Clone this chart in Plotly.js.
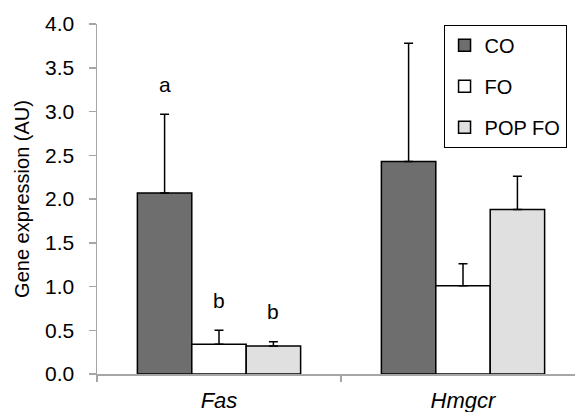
<!DOCTYPE html>
<html>
<head>
<meta charset="utf-8">
<script src="https://cdn.plot.ly/plotly-3.0.1.min.js"></script>
<style>html,body{margin:0;padding:0;background:#fff;}#chart{width:575px;height:412px;}</style>
</head>
<body>
<div id="chart"></div>
<script>
// Data
var categories = ["Fas", "Hmgcr"];
var categoryLabels = ["<i>Fas</i>", "<i>Hmgcr</i>"];
var seriesNames = ["CO", "FO", "POP FO"];
var coValues = [2.07, 2.43];
var foValues = [0.34, 1.01];
var popfoValues = [0.32, 1.88];
var coErrors = [0.90, 1.35];
var foErrors = [0.16, 0.25];
var popfoErrors = [0.05, 0.38];
var coLetters = ["a", ""];
var foLetters = ["b", ""];
var popfoLetters = ["b", ""];
var yTickVals = [0, 0.5, 1, 1.5, 2, 2.5, 3, 3.5, 4];
var yTickText = ["0.0", "0.5", "1.0", "1.5", "2.0", "2.5", "3.0", "3.5", "4.0"];

var colors = ["#6e6e6e", "#ffffff", "#e0e0e0"];
var values = [coValues, foValues, popfoValues];
var errors = [coErrors, foErrors, popfoErrors];
var letters = [coLetters, foLetters, popfoLetters];
var catIdx = categories.map(function (c, i) { return i; });
var FONT = "Liberation Sans, Arial, sans-serif";

var traces = seriesNames.map(function (name, s) {
  return {
    type: "bar",
    name: name,
    legendgroup: name,
    x: catIdx,
    y: values[s],
    marker: { color: colors[s], line: { color: "#000", width: 1.5 } },
    error_y: { type: "data", symmetric: false, array: errors[s], arrayminus: errors[s].map(function () { return 0; }),
               color: "#000", thickness: 1.5, width: 4.5 },
    hoverinfo: "skip"
  };
});

// Overlay axes carrying the visible tick marks
traces.push({ type: "scatter", x: [0], y: [0], xaxis: "x2", yaxis: "y2", mode: "none", showlegend: false, hoverinfo: "skip" });

var barW = 0.669 / 3;
var annotations = [];
letters.forEach(function (arr, s) {
  arr.forEach(function (t, i) {
    if (!t) return;
    annotations.push({
      x: i + (s - 1) * barW, y: values[s][i] + errors[s][i], xref: "x", yref: "y",
      text: t, showarrow: false, yanchor: "middle", yshift: 30,
      font: { family: FONT, size: 21, color: "#000" }
    });
  });
});

var xr = [-0.5, 1.459];
var yr = [0, 4];
var layout = {
  width: 575, height: 412,
  margin: { l: 97, r: 0, t: 24, b: 38, pad: 0 },
  paper_bgcolor: "#fff", plot_bgcolor: "#fff",
  font: { family: FONT, color: "#000" },
  barmode: "group", bargap: 0.331, bargroupgap: 0,
  showlegend: true,
  legend: {
    x: 0.725, y: 0.998, xanchor: "left", yanchor: "top",
    bordercolor: "#000", borderwidth: 1, bgcolor: "#fff",
    font: { size: 20, color: "#000" },
    traceorder: "grouped", tracegroupgap: 12, itemwidth: 30
  },
  xaxis: {
    range: xr, tickmode: "array", tickvals: catIdx, ticktext: categoryLabels,
    ticks: "", showgrid: false, zeroline: false,
    showline: true, linecolor: "#a6a6a6", linewidth: 1.5,
    tickfont: { size: 22, color: "#000" }, ticklabelstandoff: 6, fixedrange: true
  },
  xaxis2: {
    range: xr, overlaying: "x", anchor: "y", tickmode: "array", tickvals: [-0.5, 0.5],
    ticktext: ["", ""], ticks: "outside", ticklen: 7, tickwidth: 1.5, tickcolor: "#a6a6a6",
    showgrid: false, zeroline: false, showline: false, fixedrange: true
  },
  yaxis: {
    range: yr, tickmode: "array", tickvals: yTickVals, ticktext: yTickText,
    ticks: "outside", ticklen: 17, tickwidth: 1, tickcolor: "rgba(0,0,0,0)",
    showline: true, linecolor: "#a6a6a6", linewidth: 1.5,
    showgrid: false, zeroline: false,
    tickfont: { size: 21, color: "#000" },
    title: { text: "Gene expression (AU)", font: { size: 20, color: "#000" }, standoff: 10 },
    fixedrange: true
  },
  yaxis2: {
    range: yr, overlaying: "y", anchor: "x", tickmode: "array", tickvals: yTickVals,
    ticktext: yTickVals.map(function () { return ""; }), ticks: "outside", ticklen: 7,
    tickwidth: 1.5, tickcolor: "#a6a6a6", showgrid: false, zeroline: false, showline: false,
    fixedrange: true
  },
  annotations: annotations
};

Plotly.newPlot("chart", traces, layout, { displayModeBar: false, staticPlot: true });
</script>
</body>
</html>
